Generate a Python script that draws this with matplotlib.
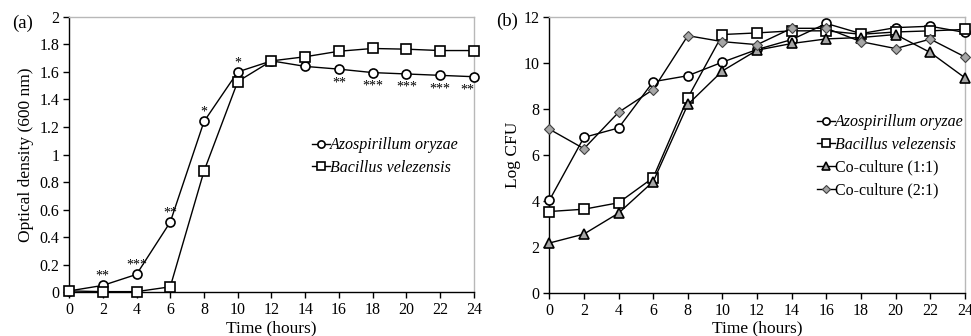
import matplotlib

matplotlib.use("Agg")
import matplotlib.pyplot as plt

plt.rcParams.update(
    {
        "font.family": ["Liberation Serif", "DejaVu Serif"],
        "font.size": 11.5,
        "axes.linewidth": 1.0,
        "xtick.direction": "out",
        "ytick.direction": "out",
    }
)

# Data
hours = [0, 2, 4, 6, 8, 10, 12, 14, 16, 18, 20, 22, 24]

od_azo = [0.01, 0.05, 0.13, 0.51, 1.24, 1.60, 1.68, 1.64, 1.62, 1.595, 1.585, 1.575, 1.565]
od_bac = [0.01, 0.005, 0.005, 0.04, 0.88, 1.53, 1.68, 1.71, 1.75, 1.77, 1.765, 1.755, 1.755]

# significance marks: (hour, label, above/below the A. oryzae point)
sig_hours = [2, 4, 6, 8, 10, 16, 18, 20, 22, 24]
sig_labels = ["**", "***", "**", "*", "*", "**", "***", "***", "***", "**"]
sig_above = [True, True, True, True, True, False, False, False, False, False]

cfu_azo = [4.02, 6.76, 7.17, 9.18, 9.44, 10.03, 10.58, 11.01, 11.71, 11.27, 11.53, 11.59, 11.32]
cfu_bac = [3.54, 3.64, 3.92, 5.01, 8.48, 11.23, 11.30, 11.39, 11.39, 11.24, 11.34, 11.39, 11.45]
cfu_co11 = [2.17, 2.56, 3.47, 4.84, 8.19, 9.65, 10.55, 10.84, 11.04, 11.10, 11.23, 10.45, 9.35]
cfu_co21 = [7.12, 6.27, 7.85, 8.84, 11.18, 10.92, 10.79, 11.50, 11.50, 10.92, 10.62, 11.03, 10.26]

od_ticks = [0, 0.2, 0.4, 0.6, 0.8, 1, 1.2, 1.4, 1.6, 1.8, 2]
od_ticklabels = ["0", "0.2", "0.4", "0.6", "0.8", "1", "1.2", "1.4", "1.6", "1.8", "2"]
cfu_ticks = [0, 2, 4, 6, 8, 10, 12]

fig = plt.figure(figsize=(9.71, 3.36), dpi=100)
ax1 = fig.add_axes([0.0711, 0.130, 0.417, 0.820])
ax2 = fig.add_axes([0.5657, 0.128, 0.428, 0.822])


def style_axes(ax):
    ax.spines["left"].set_color("black")
    ax.spines["bottom"].set_color("black")
    ax.spines["top"].set_color("#b8b8b8")
    ax.spines["right"].set_color("#b8b8b8")
    ax.tick_params(top=False, right=False, length=4, width=1, labelsize=11.5, pad=3)
    ax.set_xlim(0, 24)
    ax.set_xticks(hours)
    ax.set_xlabel("Time (hours)", fontsize=12.5, labelpad=1.5)


line_kw = dict(color="black", linewidth=1.0, markersize=6.5, markeredgewidth=1.2, clip_on=False)
leg_kw = dict(loc="upper left", frameon=False, fontsize=11.5, handlelength=1.1, markerscale=0.8,
              handletextpad=0.0, labelspacing=0.42, borderaxespad=0, borderpad=0)

# (a) optical density
ax1.plot(hours, od_azo, marker="o", markerfacecolor="white", label="Azospirillum oryzae", zorder=3, **line_kw)
ax1.plot(hours, od_bac, marker="s", markerfacecolor="white", label="Bacillus velezensis", zorder=3, **line_kw)
for h, lab, up in zip(sig_hours, sig_labels, sig_above):
    y = od_azo[hours.index(h)]
    dx = -5 if h == 24 else 0
    ax1.annotate(lab, (h, y), xytext=(dx, 2 if up else -5), textcoords="offset points",
                 ha="center", va="bottom" if up else "top", fontsize=10)
style_axes(ax1)
ax1.set_ylim(0, 2)
ax1.set_yticks(od_ticks)
ax1.set_yticklabels(od_ticklabels)
ax1.set_ylabel("Optical density (600 nm)", fontsize=12.5, labelpad=4)
leg1 = ax1.legend(bbox_to_anchor=(0.60, 0.563), **leg_kw)
for t in leg1.get_texts():
    t.set_fontstyle("italic")
fig.text(0.012, 0.932, "(a)", fontsize=13.5, va="center")

# (b) log CFU
ax2.plot(hours, cfu_azo, marker="o", markerfacecolor="white", label="Azospirillum oryzae", zorder=3, **line_kw)
ax2.plot(hours, cfu_bac, marker="s", markerfacecolor="white", label="Bacillus velezensis", zorder=3, **line_kw)
ax2.plot(hours, cfu_co11, marker="^", markerfacecolor="#a6a6a6", label="Co-culture (1:1)", zorder=3, **line_kw)
ax2.plot(hours, cfu_co21, marker="D", markerfacecolor="#a6a6a6", label="Co-culture (2:1)", zorder=3,
         color="black", linewidth=1.0, markersize=5.5, markeredgewidth=0.8, markeredgecolor="#404040",
         clip_on=False)
style_axes(ax2)
ax2.set_ylim(0, 12)
ax2.set_yticks(cfu_ticks)
ax2.set_ylabel("Log CFU", fontsize=12.5, labelpad=2)
leg2 = ax2.legend(bbox_to_anchor=(0.644, 0.647), **leg_kw)
for t in leg2.get_texts()[:2]:
    t.set_fontstyle("italic")
fig.text(0.511, 0.935, "(b)", fontsize=13.5, va="center")

fig.savefig("out.png", dpi=100)
